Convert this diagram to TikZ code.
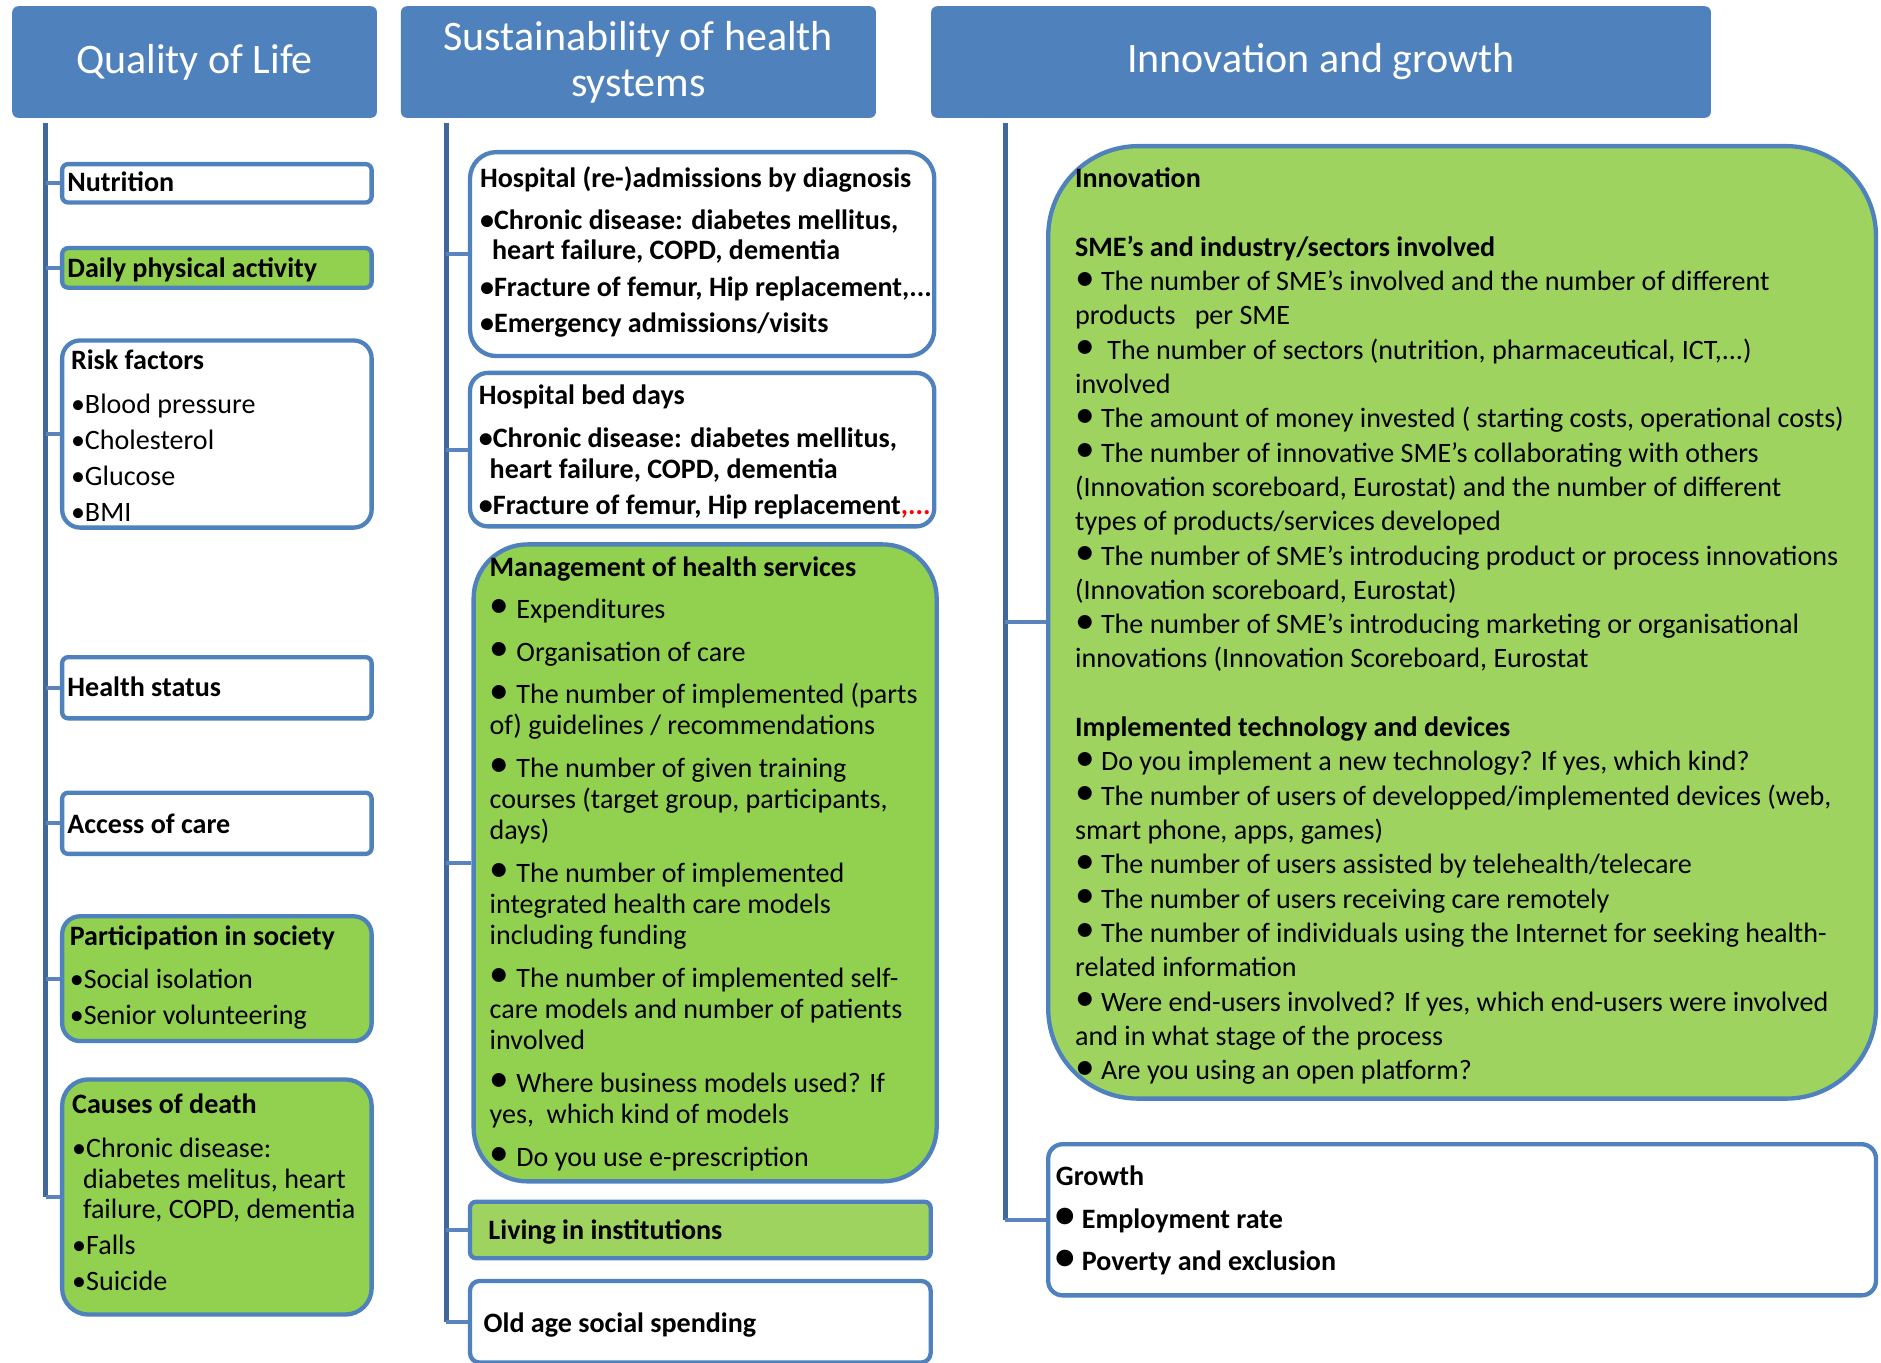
\documentclass[tikz,border=0pt]{standalone}
\usepackage{fontspec}
\setmainfont{Carlito}
\definecolor{hdrblue}{HTML}{4F81BD}
\definecolor{edgeblue}{HTML}{4F81BD}
\definecolor{trunkblue}{HTML}{41689A}
\definecolor{tickblue}{HTML}{5A84BC}
\definecolor{leafgreen}{HTML}{92D050}
\definecolor{palegreen}{HTML}{9ED35F}
\newcommand{\bdot}{\raisebox{0.02em}{\scalebox{1.4}{\textbullet}}}
\begin{document}
\begin{tikzpicture}[x=1pt, y=-1pt,
  hdr/.style={fill=hdrblue, rounded corners=5pt, text=white, align=center, inner sep=0pt,
    anchor=north west, font=\fontsize{35}{38}\selectfont},
  box/.style={draw=edgeblue, line width=3.6pt, fill=white, rounded corners=5pt,
    anchor=north west, inner sep=0pt},
  txt/.style={anchor=base west, align=left, inner sep=0pt, yshift=-2pt, font=\fontsize{23.4}{30}\selectfont},
  ttl/.style={txt, font=\bfseries\fontsize{23.4}{30}\selectfont},
  trunk/.style={draw=trunkblue, line width=4.5pt},
  tick/.style={draw=tickblue, line width=3.5pt}]
  \useasboundingbox (0,0) rectangle (1568,1136);

  % column headers
  \node[hdr, minimum width=304, minimum height=93] (qol) at (10,5) {Quality of Life};
  \node[hdr, minimum width=396, minimum height=93] (sust) at (334,5) {Sustainability of health\\systems};
  \node[hdr, minimum width=650, minimum height=93] (inno) at (776,5) {Innovation and growth};

  % quality of life (text nodes sit on the baseline of their last line)
  \node[box, minimum width=258, minimum height=32] (nutr) at (50,135) {};
  \node[box, fill=leafgreen, minimum width=258, minimum height=33] (daily) at (50,205) {};
  \node[box, rounded corners=15pt, minimum width=258, minimum height=156] (risk) at (50,282) {};
  \node[box, minimum width=258, minimum height=51] (health) at (50,546) {};
  \node[box, minimum width=258, minimum height=51] (access) at (50,659) {};
  \node[box, fill=leafgreen, rounded corners=15pt, minimum width=258, minimum height=104] (part) at (50,762) {};
  \node[box, fill=leafgreen, rounded corners=22pt, minimum width=258, minimum height=196] (causes) at (50,898) {};

  \node[ttl] (nutr-t) at (56,158) {Nutrition};
  \node[ttl] (daily-t) at (56,229) {Daily physical activity};
  \node[txt] (risk-t) at (59,433) {\textbf{Risk factors}\\[7pt]\textbullet Blood pressure\\\textbullet Cholesterol\\
    \textbullet Glucose\\\textbullet BMI};
  \node[ttl] (health-t) at (56,579) {Health status};
  \node[ttl] (access-t) at (56,693) {Access of care};
  \node[txt] (part-t) at (58,852) {\textbf{Participation in society}\\[6pt]\textbullet Social isolation\\
    \textbullet Senior volunteering};
  \node[txt] (causes-t) at (60,1074) {\textbf{Causes of death}\\[7pt]\textbullet Chronic disease:\\[-4pt]
    \hspace*{9pt}diabetes melitus, heart\\[-5pt]\hspace*{9pt}failure, COPD, dementia\\
    \textbullet Falls\\\textbullet Suicide};

  % sustainability of health systems
  \node[box, rounded corners=22pt, minimum width=387, minimum height=170] (hadm) at (390,125) {};
  \node[box, rounded corners=15pt, minimum width=387, minimum height=128] (hbed) at (390,309) {};
  \node[box, fill=leafgreen, rounded corners=45pt, minimum width=386, minimum height=531] (mgmt) at (393,452) {};
  \node[box, fill=palegreen, minimum width=384, minimum height=47] (living) at (390,1000) {};
  \node[box, rounded corners=8pt, minimum width=384, minimum height=68] (oldage) at (390,1066) {};

  \node[ttl] (hadm-t) at (400,275) {Hospital (re-)admissions by diagnosis\\[5pt]
    \textbullet Chronic disease: diabetes mellitus,\\[-5pt]\hspace*{10pt}heart failure, COPD, dementia\\[1pt]
    \textbullet Fracture of femur, Hip replacement,...\\\textbullet Emergency admissions/visits};
  \node[ttl] (hbed-t) at (399,427) {Hospital bed days\\[6pt]
    \textbullet Chronic disease: diabetes mellitus,\\[-4pt]\hspace*{9pt}heart failure, COPD, dementia\\
    \textbullet Fracture of femur, Hip replacement\textcolor{red}{,...}};
  \node[txt, font=\fontsize{23.4}{26}\selectfont] (mgmt-t) at (408,970) {\textbf{Management of health services}\\[9pt]
    \bdot\hspace{6pt}Expenditures\\[9.5pt]
    \bdot\hspace{6pt}Organisation of care\\[9.5pt]
    \bdot\hspace{6pt}The number of implemented (parts\\of) guidelines / recommendations\\[9.5pt]
    \bdot\hspace{6pt}The number of given training\\courses (target group, participants,\\days)\\[9.5pt]
    \bdot\hspace{6pt}The number of implemented\\integrated health care models\\including funding\\[9.5pt]
    \bdot\hspace{6pt}The number of implemented self-\\care models and number of patients\\involved\\[9.5pt]
    \bdot\hspace{6pt}Where business models used? If\\yes,\ \ which kind of models\\[9.5pt]
    \bdot\hspace{6pt}Do you use e-prescription};
  \node[ttl] (living-t) at (407,1031) {Living in institutions};
  \node[ttl] (oldage-t) at (403,1109) {Old age social spending};

  % innovation and growth
  \node[box, fill=palegreen, rounded corners=75pt, minimum width=690, minimum height=794] (innov) at (872,120) {};
  \node[box, rounded corners=12pt, minimum width=690, minimum height=126] (growth) at (872,952) {};

  \node[txt, font=\fontsize{23.4}{28.6}\selectfont] (innov-t) at (896,898) {\textbf{Innovation}\\[28.6pt]
    \textbf{SME's and industry/sectors involved}\\
    \bdot\ The number of SME's involved and the number of different\\
    products\ \ \ per SME\\
    \bdot\ \ The number of sectors (nutrition, pharmaceutical, ICT,...)\\
    involved\\
    \bdot\ The amount of money invested ( starting costs, operational costs)\\
    \bdot\ The number of innovative SME's collaborating with others\\
    (Innovation scoreboard, Eurostat) and the number of different\\
    types of products/services developed\\
    \bdot\ The number of SME's introducing product or process innovations\\
    (Innovation scoreboard, Eurostat)\\
    \bdot\ The number of SME's introducing marketing or organisational\\
    innovations (Innovation Scoreboard, Eurostat\\[28.6pt]
    \textbf{Implemented technology and devices}\\
    \bdot\ Do you implement a new technology? If yes, which kind?\\
    \bdot\ The number of users of developped/implemented devices (web,\\
    smart phone, apps, games)\\
    \bdot\ The number of users assisted by telehealth/telecare\\
    \bdot\ The number of users receiving care remotely\\
    \bdot\ The number of individuals using the Internet for seeking health-\\
    related information\\
    \bdot\ Were end-users involved? If yes, which end-users were involved\\
    and in what stage of the process\\
    \bdot\ Are you using an open platform?};
  \node[ttl] (growth-t) at (880,1057) {Growth\\[6pt]\bdot\ Employment rate\\[5pt]\bdot\ Poverty and exclusion};

  % tree trunks and branches
  \coordinate (qroot) at ([xshift=28pt, yshift=-4pt]qol.south west);
  \coordinate (sroot) at ([xshift=38pt, yshift=-4pt]sust.south west);
  \coordinate (iroot) at ([xshift=62pt, yshift=-4pt]inno.south west);
  \draw[trunk] (qroot) -- (qroot |- causes.west);
  \draw[trunk] (sroot) -- (sroot |- oldage.west);
  \draw[trunk] (iroot) -- (iroot |- growth.west);
  \foreach \b in {nutr,daily,risk,health,access,part,causes}
    \draw[tick] (qroot |- \b.west) -- (\b.west);
  \foreach \b in {hadm,hbed,mgmt,living,oldage}
    \draw[tick] (sroot |- \b.west) -- (\b.west);
  \foreach \b in {innov,growth}
    \draw[tick] (iroot |- \b.west) -- (\b.west);
\end{tikzpicture}
\end{document}
